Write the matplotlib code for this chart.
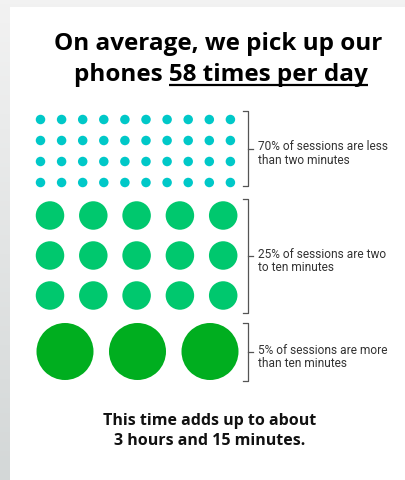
import numpy as np
import matplotlib
matplotlib.use("Agg")
import matplotlib.pyplot as plt
from matplotlib.patches import Circle, Rectangle

# ---- data ----
categories = ["less than two minutes", "two to ten minutes", "more than ten minutes"]
shares = [70, 25, 5]                 # percent of sessions
dot_counts = [40, 15, 3]             # dots drawn per group
labels = ["70% of sessions are less\nthan two minutes",
          "25% of sessions are two\nto ten minutes",
          "5% of sessions are more\nthan ten minutes"]
colors = ["#00C8C8", "#00C86E", "#00AE1F"]
title_line1 = "On average, we pick up our"
title_pre = "phones "
title_em = "58 times per day"
footer = "This time adds up to about\n3 hours and 15 minutes."

# ---- layout (pixels) ----
W, H = 405, 481
fig = plt.figure(figsize=(W / 100, H / 100), dpi=100)
ax = fig.add_axes([0, 0, 1, 1])
ax.set_xlim(0, W)
ax.set_ylim(H, 0)
ax.axis("off")

# background: grey frame + white card
grad = np.linspace(0, 1, 100)[:, None]
c_top = np.array([0.95, 0.95, 0.95])
c_bot = np.array([0.83, 0.845, 0.845])
img = c_top[None, None, :] * (1 - grad[..., None]) + c_bot[None, None, :] * grad[..., None]
ax.imshow(np.repeat(img, 2, axis=1), extent=[0, W, H, 0], aspect="auto", zorder=0)
ax.add_patch(Rectangle((10, 8), W - 10, H - 8, facecolor="white", edgecolor="none", zorder=1))

# group geometry
cols = [10, 5, 3]
x0 = [40.5, 50, 65]
dx = [21.1, 43.3, 72.5]
y0 = [120.5, 216.5, 352.5]
dy = [21.0, 40.0, 0]
diam = [9.5, 28.5, 57]
brackets = [(112, 187), (200, 314), (324, 382)]
bx = 248

for g in range(3):
    n = dot_counts[g]
    for i in range(n):
        r, c = divmod(i, cols[g])
        ax.add_patch(Circle((x0[g] + c * dx[g], y0[g] + r * dy[g]), diam[g] / 2,
                            facecolor=colors[g], edgecolor="none", zorder=3))
    top, bot = brackets[g]
    mid = (top + bot) / 2
    ax.plot([bx - 5, bx, bx, bx - 5], [top, top, bot, bot], color="#555555", lw=0.9, zorder=3)
    ax.plot([bx, bx + 5], [mid, mid], color="#555555", lw=0.9, zorder=3)
    ax.text(bx + 10, mid + 4, labels[g], family="Roboto", fontsize=8.6, color="#333333",
            va="center", ha="left", linespacing=1.05, zorder=4)

# title
tfont = dict(family="Open Sans", fontweight="bold", fontsize=17.5, color="black", zorder=4)
ax.text(218, 44, title_line1, ha="center", va="center", **tfont)
fig.canvas.draw()
renderer = fig.canvas.get_renderer()
tmp_a = ax.text(0, 0, title_pre, **tfont)
tmp_b = ax.text(0, 0, title_em, **tfont)
tmp_full = ax.text(0, 0, title_pre + title_em, **tfont)
w_full = tmp_full.get_window_extent(renderer).width
w_em = tmp_b.get_window_extent(renderer).width
for t in (tmp_a, tmp_b, tmp_full):
    t.remove()
cx2 = 221
ax.text(cx2, 75, title_pre + title_em, ha="center", va="center", **tfont)
x_end = cx2 + w_full / 2
x_start = x_end - w_em
ax.plot([x_start, x_end], [86, 86], color="black", lw=1.6, zorder=4, solid_capstyle="butt")

# footer
ax.text(210, 431, footer, ha="center", va="center", family="Open Sans", fontweight="bold",
        fontsize=11.5, color="#111111", linespacing=1.3, zorder=4)

fig.savefig("out.png", dpi=100)
